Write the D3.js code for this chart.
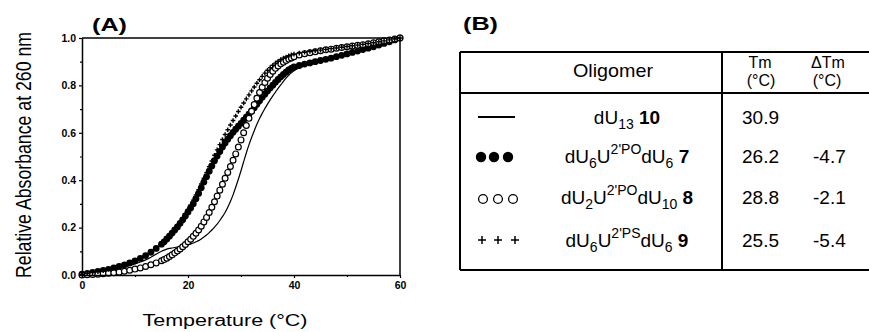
<!DOCTYPE html>
<html>
<head>
<meta charset="utf-8">
<script src="https://cdn.jsdelivr.net/npm/d3@7"></script>
<style>
body { margin: 0; background: #fff; }
svg { display: block; font-family: "Liberation Sans", Arial, Helvetica, sans-serif; }
</style>
</head>
<body>
<div id="chart"></div>
<script>
// temperature grid of the melting curves (°C)
var temps = [0, 1, 2, 3, 4, 5, 6, 7, 8, 9, 10, 11, 12, 13, 14, 15,
	15.5, 16, 16.5, 17, 17.5, 18, 18.5, 19, 19.5, 20, 20.5, 21, 21.5, 22, 22.5, 23, 23.5, 24, 24.5, 25,
	25.5, 26, 26.5, 27, 27.5, 28, 28.5, 29, 29.5, 30, 30.5, 31, 31.5, 32, 32.5, 33, 33.5, 34, 34.5, 35,
	35.5, 36, 36.5, 37, 37.5, 38, 38.5, 39, 39.5, 40,
	41, 42, 43, 44, 45, 46, 47, 48, 49, 50, 51, 52, 53, 54, 55, 56, 57, 58, 59, 60];

// dU13 10 (solid line)
var absLine = [.000, .003, .006, .009, .013, .017, .022, .027, .033, .040, .047, .055, .064, .075, .088, .100,
	.105, .109, .112, .114, .116, .118, .120, .122, .124, .127, .131, .135, .140, .145, .152, .160, .169, .179, .190, .202,
	.215, .230, .246, .264, .286, .310, .338, .370, .404, .440, .478, .515, .549, .580, .609, .636, .660, .682, .702, .721,
	.739, .756, .772, .787, .802, .817, .831, .843, .853, .862,
	.874, .883, .891, .898, .905, .911, .917, .923, .929, .935, .941, .947, .953, .959, .965, .971, .978, .985, .992, 1.0];

// dU6U2'POdU6 7 (filled circles)
var absFilled = [.004, .007, .011, .015, .019, .024, .030, .036, .043, .051, .060, .070, .082, .096, .112, .130,
	.140, .152, .164, .177, .190, .203, .218, .233, .249, .266, .283, .301, .322, .344, .368, .392, .415, .438, .460, .482,
	.502, .521, .540, .557, .573, .588, .602, .615, .628, .640, .653, .666, .679, .692, .706, .720, .735, .750, .763, .776,
	.789, .801, .813, .825, .836, .846, .856, .865, .872, .878,
	.884, .890, .895, .900, .905, .910, .915, .921, .927, .933, .939, .945, .951, .957, .963, .970, .977, .984, .992, 1.0];

// dU2U2'POdU10 8 (open circles)
var absOpen = [.000, .001, .002, .003, .005, .007, .009, .012, .016, .020, .025, .030, .036, .043, .051, .060,
	.065, .071, .078, .085, .093, .101, .110, .119, .129, .140, .151, .163, .176, .190, .206, .224, .243, .264, .286, .309,
	.333, .358, .383, .408, .433, .458, .484, .511, .540, .570, .600, .631, .661, .691, .719, .746, .770, .792, .812, .830,
	.846, .860, .872, .882, .891, .898, .905, .911, .916, .921,
	.928, .934, .938, .942, .946, .950, .953, .957, .960, .963, .966, .969, .972, .976, .980, .984, .988, .992, .996, 1.0];

// dU6U2'PSdU6 9 (plus)
var absPlus = [.003, .006, .010, .014, .018, .023, .029, .035, .042, .050, .059, .069, .081, .095, .111, .129,
	.139, .151, .164, .178, .192, .207, .223, .240, .258, .277, .296, .316, .338, .360, .384, .408, .432, .457, .481, .505,
	.528, .550, .572, .593, .613, .633, .652, .671, .690, .708, .726, .743, .760, .777, .793, .809, .824, .838, .852, .864,
	.875, .885, .894, .902, .909, .915, .920, .925, .929, .932,
	.936, .940, .943, .946, .949, .952, .955, .958, .961, .964, .967, .970, .973, .977, .980, .984, .988, .992, .996, 1.0];

var xTicks = [0, 20, 40, 60];
var xMinorTicks = [10, 30, 50];
var yTicks = [0, 0.2, 0.4, 0.6, 0.8, 1.0];
var yMinorTicks = [0.1, 0.3, 0.5, 0.7, 0.9];

// table (B)
var legendKinds = ["line", "filled", "open", "plus"];
var oligomerParts = [
	[["dU", "n"], ["13", "sub"], [" 10", "b"]],
	[["dU", "n"], ["6", "sub"], ["U", "n"], ["2'PO", "sup"], ["dU", "n"], ["6", "sub"], [" 7", "b"]],
	[["dU", "n"], ["2", "sub"], ["U", "n"], ["2'PO", "sup"], ["dU", "n"], ["10", "sub"], [" 8", "b"]],
	[["dU", "n"], ["6", "sub"], ["U", "n"], ["2'PS", "sup"], ["dU", "n"], ["6", "sub"], [" 9", "b"]]
];
var tmValues = ["30.9", "26.2", "28.8", "25.5"];
var dTmValues = ["", "-4.7", "-2.1", "-5.4"];

function plusPath(h) {
	return "M" + (-h) + ",0H" + h + "M0," + (-h) + "V" + h;
}

function drawMarkers(g, kind, xs, ys, size) {
	try {
		var pts = xs.map(function(d, i) {
			return [d, ys[i]];
		});
		if (kind == "line") {
			var line = d3.line().x(function(d) {
				return d[0];
			}).y(function(d) {
				return d[1];
			}).curve(d3.curveMonotoneX);
			g.append("path").attr("d", line(pts)).attr("fill", "none").attr(
					"stroke", "#000").attr("stroke-width", size.lw);
			return;
		}
		var sel = g.selectAll(null).data(pts);
		if (kind == "filled") {
			sel.enter().append("circle").attr("cx", function(d) {
				return d[0];
			}).attr("cy", function(d) {
				return d[1];
			}).attr("r", size.r).attr("fill", "#000");
		} else if (kind == "open") {
			sel.enter().append("circle").attr("cx", function(d) {
				return d[0];
			}).attr("cy", function(d) {
				return d[1];
			}).attr("r", size.r).attr("fill", "#fff").attr("stroke", "#000")
					.attr("stroke-width", size.sw);
		} else {
			sel.enter().append("path").attr("d", plusPath(size.h)).attr(
					"transform", function(d) {
						return "translate(" + d[0] + "," + d[1] + ")";
					}).attr("stroke", "#000").attr("stroke-width", size.sw)
					.attr("fill", "none");
		}
	} catch (error) {
		throw "Function :: drawMarkers Error: " + error;
	}
}

function drawPanelA(svg) {
	try {
		var x = d3.scaleLinear().domain([0, 60]).range([82, 400]);
		var y = d3.scaleLinear().domain([0, 1]).range([275, 38]);

		svg.append("text").attr("x", 92).attr("y", 31).attr("font-size", 19)
				.attr("font-weight", "bold").attr("textLength", 35).attr(
						"lengthAdjust", "spacingAndGlyphs").text("(A)");

		var plot = svg.append("g");
		var xs = temps.map(function(t) {
			return x(t);
		});
		var toY = function(a) {
			return a.map(function(v) {
				return y(v);
			});
		};
		drawMarkers(plot, "line", xs, toY(absLine), {lw: 1.2});
		drawMarkers(plot, "filled", xs, toY(absFilled), {r: 3.4});
		drawMarkers(plot, "open", xs, toY(absOpen), {r: 2.9, sw: 1.2});
		drawMarkers(plot, "plus", xs, toY(absPlus), {h: 2.3, sw: 1.4});

		// frame
		svg.append("line").attr("x1", x(0)).attr("x2", x(60)).attr("y1", y(1))
				.attr("y2", y(1)).attr("stroke", "#000").attr("stroke-width", 1.5);
		svg.append("line").attr("x1", x(60)).attr("x2", x(60)).attr("y1", y(1))
				.attr("y2", y(0)).attr("stroke", "#000").attr("stroke-width", 1.5);

		var yAxis = svg.append("g").attr("transform", "translate(" + x(0) + ",0)")
				.call(d3.axisLeft(y).tickValues(yTicks).tickSize(3).tickSizeOuter(0)
						.tickPadding(3).tickFormat(d3.format(".1f")));
		svg.append("g").attr("transform", "translate(" + x(0) + ",0)").call(
				d3.axisLeft(y).tickValues(yMinorTicks).tickSize(2).tickFormat(""))
				.select(".domain").remove();
		var xAxis = svg.append("g").attr("transform", "translate(0," + y(0) + ")")
				.call(d3.axisBottom(x).tickValues(xTicks).tickSize(3).tickSizeOuter(0)
						.tickPadding(4));
		svg.append("g").attr("transform", "translate(0," + y(0) + ")").call(
				d3.axisBottom(x).tickValues(xMinorTicks).tickSize(2).tickFormat(""))
				.select(".domain").remove();

		svg.selectAll(".tick line").attr("stroke-width", 1.2);
		yAxis.select(".domain").attr("stroke-width", 1.5);
		xAxis.select(".domain").attr("stroke-width", 1.5);
		svg.selectAll(".tick text").attr("font-size", 10.5).attr("font-weight",
				"bold").attr("font-family", "\"Liberation Sans\", Arial, sans-serif")
				.attr("fill", "#000");

		svg.append("text").attr("text-anchor", "middle").attr("font-size", 16)
				.attr("textLength", 165).attr("lengthAdjust", "spacingAndGlyphs")
				.attr("x", 225).attr("y", 326).text("Temperature (\u00B0C)");

		svg.append("text").attr("text-anchor", "middle").attr("font-size", 17)
				.attr("textLength", 246).attr("lengthAdjust", "spacingAndGlyphs")
				.attr("transform", "translate(31,155) scale(1.35,1) rotate(-90)")
				.text("Relative Absorbance at 260 nm");
	} catch (error) {
		throw "Function :: drawPanelA Error: " + error;
	}
}

function drawPanelB(svg) {
	try {
		svg.append("text").attr("x", 463).attr("y", 30).attr("font-size", 19)
				.attr("font-weight", "bold").attr("textLength", 35).attr(
						"lengthAdjust", "spacingAndGlyphs").text("(B)");

		var left = 460, top = 52, bottom = 270, right = 875, headY = 93, sepX = 722;
		var lines = [[left, top, right, top], [left, bottom, right, bottom],
				[left, headY, right, headY], [left, top, left, bottom],
				[sepX, top, sepX, bottom]];
		svg.selectAll(null).data(lines).enter().append("line").attr("x1",
				function(d) {
					return d[0];
				}).attr("y1", function(d) {
			return d[1];
		}).attr("x2", function(d) {
			return d[2];
		}).attr("y2", function(d) {
			return d[3];
		}).attr("stroke", "#000").attr("stroke-width", 2);

		svg.append("text").attr("x", 613).attr("y", 77).attr("text-anchor",
				"middle").attr("font-size", 19).attr("textLength", 80).attr(
				"lengthAdjust", "spacingAndGlyphs").text("Oligomer");
		var heads = [[760, 68, "Tm"], [761, 86, "(\u00B0C)"], [828, 68, "\u0394Tm"],
				[827, 86, "(\u00B0C)"]];
		svg.selectAll(null).data(heads).enter().append("text").attr("x",
				function(d) {
					return d[0];
				}).attr("y", function(d) {
			return d[1];
		}).attr("text-anchor", "middle").attr("font-size", 16).text(function(d) {
			return d[2];
		});

		var rowY = [124, 163, 204, 247];
		var rowMid = [117, 157, 199, 240];
		var length = legendKinds.length;
		var i = 0;
		for (i; i < length; i++) {
			var g = svg.append("g");
			var my = [rowMid[i], rowMid[i], rowMid[i]];
			if (legendKinds[i] == "line") {
				drawMarkers(g, "line", [478, 515], [rowMid[i], rowMid[i]], {lw: 2});
			} else if (legendKinds[i] == "filled") {
				drawMarkers(g, "filled", [481, 494, 508], my, {r: 5.2});
			} else if (legendKinds[i] == "open") {
				drawMarkers(g, "open", [483, 498, 513], my, {r: 4.4, sw: 1.3});
			} else {
				drawMarkers(g, "plus", [482, 498, 515], my, {h: 4, sw: 1.5});
			}

			var t = svg.append("text").attr("x", 627).attr("y", rowY[i]).attr(
					"text-anchor", "middle").attr("font-size", 19);
			var parts = oligomerParts[i];
			var shift = 0;
			var j = 0;
			for (j; j < parts.length; j++) {
				var kind = parts[j][1];
				var target = kind == "sub" ? 5 : (kind == "sup" ? -9 : 0);
				var span = t.append("tspan").attr("dy", target - shift).text(parts[j][0]);
				shift = target;
				if (kind == "sub" || kind == "sup") {
					span.attr("font-size", 14);
				}
				if (kind == "b") {
					span.attr("font-weight", "bold");
				}
			}

			svg.append("text").attr("x", 742).attr("y", rowY[i]).attr("font-size",
					19).text(tmValues[i]);
			svg.append("text").attr("x", 813).attr("y", rowY[i]).attr("font-size",
					19).text(dTmValues[i]);
		}
	} catch (error) {
		throw "Function :: drawPanelB Error: " + error;
	}
}

var svg = d3.select("#chart").append("svg").attr("width", 869).attr("height", 332);
drawPanelA(svg);
drawPanelB(svg);
</script>
</body>
</html>
